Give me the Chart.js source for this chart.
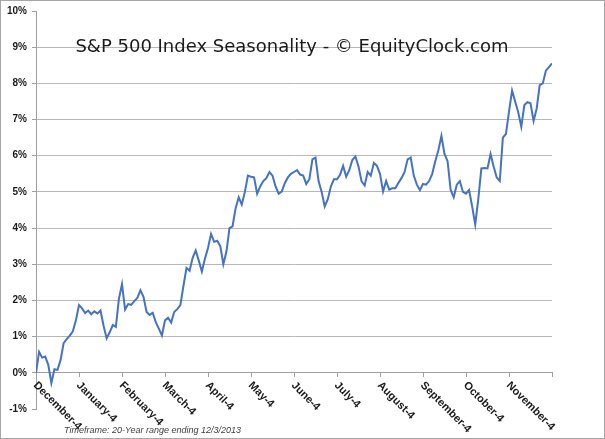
<!DOCTYPE html>
<html>
<head>
<meta charset="utf-8">
<script src="https://cdn.jsdelivr.net/npm/chart.js@4.4.1/dist/chart.umd.min.js"></script>
<style>
  html, body { margin: 0; padding: 0; background: #ffffff; }
  canvas { display: block; }
</style>
</head>
<body>
<canvas id="c" width="605" height="439"></canvas>
<script>
// ---- data ----
const months = ['December-4', 'January-4', 'February-4', 'March-4', 'April-4', 'May-4',
                'June-4', 'July-4', 'August-4', 'September-4', 'October-4', 'November-4'];
const pointsPerMonth = 14;
const seasonalReturn = [
  0.00, 0.58, 0.42, 0.45, 0.22, -0.28, 0.10, 0.08, 0.35, 0.82, 0.93, 1.03, 1.15, 1.45,
  1.87, 1.78, 1.65, 1.72, 1.62, 1.70, 1.64, 1.72, 1.30, 0.95, 1.12, 1.32, 1.27, 2.05,
  2.45, 1.75, 1.90, 1.88, 1.98, 2.07, 2.28, 2.10, 1.68, 1.60, 1.66, 1.40, 1.22, 1.03,
  1.45, 1.52, 1.39, 1.68, 1.76, 1.87, 2.40, 2.90, 2.82, 3.18, 3.38, 3.10, 2.80, 3.15,
  3.45, 3.84, 3.62, 3.65, 3.50, 3.00, 3.35, 4.00, 4.05, 4.55, 4.85, 4.65, 5.00, 5.45,
  5.42, 5.40, 4.95, 5.15, 5.30, 5.38, 5.55, 5.45, 5.15, 4.95, 5.01, 5.24, 5.40, 5.50,
  5.55, 5.60, 5.48, 5.45, 5.22, 5.35, 5.90, 5.95, 5.30, 5.00, 4.60, 4.80, 5.15, 5.35,
  5.35, 5.47, 5.72, 5.42, 5.60, 5.88, 5.98, 5.70, 5.29, 5.18, 5.55, 5.45, 5.80, 5.72,
  5.50, 5.01, 5.30, 5.06, 5.10, 5.10, 5.25, 5.38, 5.55, 5.90, 5.95, 5.45, 5.20, 5.05,
  5.22, 5.20, 5.30, 5.50, 5.85, 6.15, 6.55, 6.05, 5.85, 5.06, 4.85, 5.20, 5.30, 5.00,
  4.95, 5.05, 4.60, 4.10, 4.80, 5.65, 5.66, 5.65, 6.05, 5.70, 5.40, 5.30, 6.50, 6.60,
  7.22, 7.80, 7.50, 7.20, 6.80, 7.40, 7.48, 7.45, 6.96, 7.30, 7.95, 8.00, 8.35, 8.45,
  8.55
];
const yTicks = [-1, 0, 1, 2, 3, 4, 5, 6, 7, 8, 9, 10];
const titleText = 'S&P 500 Index Seasonality - \u00A9 EquityClock.com';
const footerText = 'Timeframe: 20-Year range ending 12/3/2013';

// ---- chart ----
const points = seasonalReturn.map((v, i) => ({ x: i, y: v }));
const lastIndex = months.length * pointsPerMonth;

const overlay = {
  id: 'overlay',
  afterDraw(chart) {
    const ctx = chart.ctx;
    const xs = chart.scales.x, ys = chart.scales.y;
    const area = chart.chartArea;
    ctx.save();
    // rotated month labels, starting at each tick and running down-right
    ctx.font = 'bold 11px "Liberation Sans", Arial, sans-serif';
    ctx.fillStyle = '#1a1a1a';
    ctx.textAlign = 'left';
    ctx.textBaseline = 'top';
    const axisY = ys.getPixelForValue(0);
    xs.ticks.forEach(t => {
      const label = months[Math.round(t.value / pointsPerMonth)];
      if (label === undefined || t.value % pointsPerMonth !== 0) return;
      const px = xs.getPixelForValue(t.value);
      ctx.save();
      ctx.translate(px + 3, axisY + 7);
      ctx.rotate(Math.PI / 4);
      ctx.fillText(label, 0, 0);
      ctx.restore();
    });
    // title inside the plot
    ctx.font = '18px "DejaVu Sans", Verdana, sans-serif';
    ctx.fillStyle = '#1a1a1a';
    ctx.textAlign = 'center';
    ctx.textBaseline = 'middle';
    ctx.fillText(titleText, (area.left + area.right) / 2 - 2, ys.getPixelForValue(9));
    // footer
    ctx.font = 'italic 9px "Liberation Sans", Arial, sans-serif';
    ctx.fillStyle = '#404040';
    ctx.textAlign = 'left';
    ctx.textBaseline = 'alphabetic';
    ctx.fillText(footerText, 64, 433);
    // outer frame
    ctx.strokeStyle = '#a6a6a6';
    ctx.lineWidth = 1;
    ctx.strokeRect(0.5, 0.5, chart.width - 1, chart.height - 1);
    ctx.restore();
  }
};

new Chart(document.getElementById('c'), {
  type: 'line',
  data: {
    datasets: [{
      label: 'S&P 500 Seasonality',
      data: points,
      borderColor: '#4472C4',
      borderWidth: 2,
      pointRadius: 0,
      tension: 0,
      fill: false
    }]
  },
  options: {
    responsive: false,
    animation: false,
    layout: { padding: { left: 0, top: 10, right: 53, bottom: 30 } },
    plugins: {
      legend: { display: false },
      tooltip: { enabled: false },
      title: { display: false }
    },
    scales: {
      x: {
        type: 'linear',
        position: { y: 0 },
        min: 0,
        max: lastIndex,
        ticks: { stepSize: pointsPerMonth, display: false, autoSkip: false },
        grid: { drawOnChartArea: false, drawTicks: true, tickLength: 4, tickColor: '#a0a0a0' },
        border: { display: true, color: '#a0a0a0', width: 1 }
      },
      y: {
        min: -1,
        max: 10,
        afterFit(scale) { scale.width = 36; },
        afterBuildTicks(scale) { scale.ticks = yTicks.map(v => ({ value: v })); },
        ticks: {
          stepSize: 1,
          padding: 5,
          color: '#1a1a1a',
          font: { family: '"Liberation Sans", Arial, sans-serif', size: 10, weight: 'bold' },
          callback: v => v + '%'
        },
        grid: {
          color: c => (c.tick && (c.tick.value === -1 || c.tick.value === 10)) ? 'rgba(0,0,0,0)' : '#b8b8b8',
          lineWidth: 1,
          tickLength: 4,
          tickColor: '#a0a0a0'
        },
        border: { display: true, color: '#a0a0a0', width: 1 }
      }
    }
  },
  plugins: [overlay]
});
</script>
</body>
</html>
